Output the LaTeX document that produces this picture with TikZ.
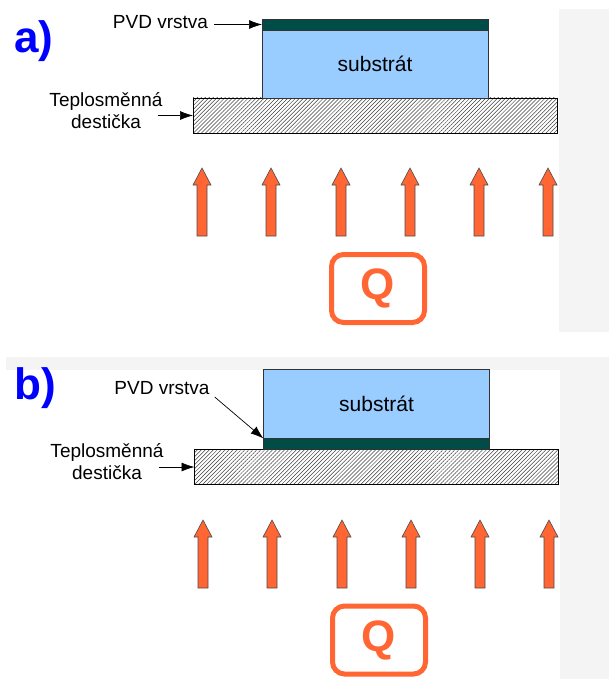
\documentclass[tikz,border=0pt]{standalone}
\usepackage{fontspec}
\setmainfont{Liberation Sans}
\usepackage{xcolor}
\usetikzlibrary{positioning}
\usetikzlibrary{arrows.meta}
\usetikzlibrary{patterns.meta}
\definecolor{bggray}{HTML}{F4F4F4}
\definecolor{subblue}{HTML}{99CCFF}
\definecolor{pvdgreen}{HTML}{004C47}
\definecolor{heatorange}{HTML}{FF6633}
\definecolor{panelblue}{HTML}{0000FF}

\tikzset{
  plate/.style={draw=black, line width=0.6pt, pattern={Lines[angle=45,distance=2.8pt,line width=0.5pt]},
    pattern color=black!75, minimum width=364pt, minimum height=35pt, inner sep=0pt, outer sep=0pt},
  substrat/.style={draw=black!80, line width=0.6pt, fill=subblue, minimum width=226pt, minimum height=68pt,
    inner sep=0pt, outer sep=0pt, font=\fontsize{21}{25}\selectfont},
  pvd/.style={draw=black!80, line width=0.6pt, fill=pvdgreen, minimum width=226pt, minimum height=11pt,
    inner sep=0pt, outer sep=0pt},
  lbl/.style={font=\fontsize{19}{22}\selectfont, align=center, inner sep=0pt},
  ptr/.style={-{Latex[length=13pt,width=9pt]}, line width=0.7pt},
  heat/.style={fill=heatorange, draw=black!70, line width=0.6pt},
  qbox/.style={draw=heatorange, line width=5pt, rounded corners=12pt, minimum width=93pt, minimum height=68pt,
    text=heatorange, font=\fontsize{44}{44}\selectfont\bfseries},
  panel/.style={text=panelblue, font=\fontsize{44}{44}\selectfont\bfseries, inner sep=0pt}
}

\begin{document}
\begin{tikzpicture}[x=1pt,y=-1pt]
  \useasboundingbox (0,0) rectangle (609,679);
  \fill[white] (0,0) rectangle (609,679);
  \fill[bggray] (559,9) rectangle (609,332);
  \fill[bggray] (6,357) rectangle (609,370);
  \fill[bggray] (560,370) rectangle (609,679);

  % a)
  \node[panel] (labA) at (34,41) {a)};
  \node[plate] (plateA) at (375,115.5) {};
  \node[substrat, above=0pt of plateA] (subA) {substrát};
  \node[pvd, above=0pt of subA] (pvdA) {};
  \node[lbl] (pvdlblA) at (160.5,22.5) {PVD vrstva};
  \draw[ptr] ([xshift=6pt]pvdlblA.east |- pvdA.west) -- (pvdA.west);
  \node[lbl] (tepA) at (106,111) {Teplosměnná\\destička};
  \draw[ptr] ([xshift=-5pt]tepA.east |- plateA.west) -- (plateA.west);

  \filldraw[heat] (202-5,236)--++(0,-51)--++(-4,0)--++(9,-17)--++(9,17)--++(-4,0)--++(0,51)--cycle;
  \filldraw[heat] (271-5,236)--++(0,-51)--++(-4,0)--++(9,-17)--++(9,17)--++(-4,0)--++(0,51)--cycle;
  \filldraw[heat] (341-5,236)--++(0,-51)--++(-4,0)--++(9,-17)--++(9,17)--++(-4,0)--++(0,51)--cycle;
  \filldraw[heat] (410-5,236)--++(0,-51)--++(-4,0)--++(9,-17)--++(9,17)--++(-4,0)--++(0,51)--cycle;
  \filldraw[heat] (479-5,236)--++(0,-51)--++(-4,0)--++(9,-17)--++(9,17)--++(-4,0)--++(0,51)--cycle;
  \filldraw[heat] (548-5,236)--++(0,-51)--++(-4,0)--++(9,-17)--++(9,17)--++(-4,0)--++(0,51)--cycle;
  \node[qbox] (qA) at (378,288.5) {Q};

  % b)
  \node[panel] (labB) at (35,388) {b)};
  \node[plate] (plateB) at (376.5,467) {};
  \node[pvd, above=0pt of plateB] (pvdB) {};
  \node[substrat, above=0pt of pvdB, minimum height=69pt] (subB) {substrát};
  \node[lbl] (pvdlblB) at (162,388) {PVD vrstva};
  \draw[ptr] ([xshift=5pt,yshift=-9pt]pvdlblB.east) -- (pvdB.north west);
  \node[lbl] (tepB) at (107,462) {Teplosměnná\\destička};
  \draw[ptr] ([xshift=-5pt]tepB.east |- plateB.west) -- (plateB.west);

  \filldraw[heat] (203-5,588)--++(0,-51)--++(-4,0)--++(9,-17)--++(9,17)--++(-4,0)--++(0,51)--cycle;
  \filldraw[heat] (272-5,588)--++(0,-51)--++(-4,0)--++(9,-17)--++(9,17)--++(-4,0)--++(0,51)--cycle;
  \filldraw[heat] (342-5,588)--++(0,-51)--++(-4,0)--++(9,-17)--++(9,17)--++(-4,0)--++(0,51)--cycle;
  \filldraw[heat] (411-5,588)--++(0,-51)--++(-4,0)--++(9,-17)--++(9,17)--++(-4,0)--++(0,51)--cycle;
  \filldraw[heat] (480-5,588)--++(0,-51)--++(-4,0)--++(9,-17)--++(9,17)--++(-4,0)--++(0,51)--cycle;
  \filldraw[heat] (549-5,588)--++(0,-51)--++(-4,0)--++(9,-17)--++(9,17)--++(-4,0)--++(0,51)--cycle;
  \node[qbox] (qB) at (379,640) {Q};
\end{tikzpicture}
\end{document}
